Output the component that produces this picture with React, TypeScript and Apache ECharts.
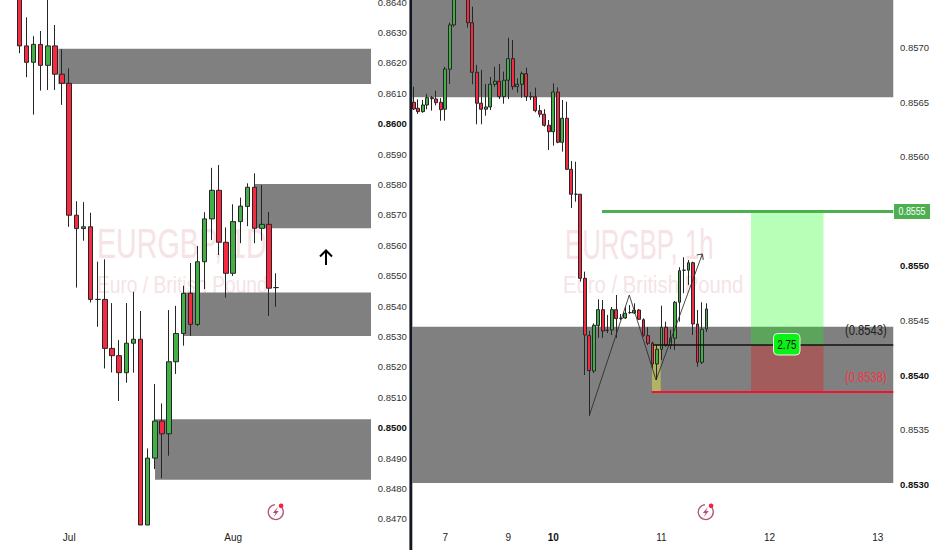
import React, { useEffect, useRef } from "react";
import * as echarts from "echarts";

// ---------- Left panel (1D) ----------
const leftOpen = [0.86473,0.86256,0.86202,0.86261,0.86192,0.86256,0.86163,0.86133,0.85699,0.85655,0.85661,0.85422,0.85422,0.85261,0.85237,0.85181,0.85278,0.85291,0.8468,0.849,0.85022,0.8498,0.85217,0.8531,0.85442,0.8534,0.85546,0.85687,0.85781,0.8561,0.85508,0.85678,0.85728,0.85791,0.85656,0.85669,0.85461];
const leftClose = [0.86256,0.86202,0.86261,0.86192,0.86256,0.86163,0.86133,0.85699,0.85655,0.85661,0.85422,0.85422,0.85261,0.85237,0.85181,0.85278,0.85291,0.8468,0.849,0.85022,0.8498,0.85217,0.8531,0.85442,0.8534,0.85546,0.85687,0.85781,0.8561,0.85508,0.85678,0.85729,0.85791,0.85656,0.85669,0.85459,0.85461];
const leftLow = [0.86232,0.86153,0.8603,0.86109,0.86111,0.86111,0.86062,0.85661,0.85461,0.85615,0.85412,0.85332,0.85195,0.85182,0.85088,0.85148,0.85181,0.8468,0.8468,0.84864,0.84834,0.84908,0.85177,0.8527,0.85302,0.85335,0.85456,0.85617,0.85568,0.85428,0.85499,0.85607,0.85663,0.85607,0.85615,0.85368,0.85398];
const leftHigh = [0.86538,0.8635,0.86288,0.86305,0.8644,0.86325,0.86245,0.86182,0.85745,0.85742,0.85707,0.85546,0.85554,0.8541,0.85288,0.8541,0.85447,0.85384,0.84932,0.85144,0.8508,0.85387,0.85401,0.85467,0.85542,0.85598,0.85709,0.85855,0.85864,0.85659,0.85735,0.85757,0.85804,0.85837,0.85798,0.8571,0.85508];
const leftLeadingBlanks = 2;
const leftBarCount = 52;
const leftYTicks = [0.864,0.863,0.862,0.861,0.86,0.859,0.858,0.857,0.856,0.855,0.854,0.853,0.852,0.851,0.85,0.849,0.848,0.847];
const leftBoldTicks = [0.86,0.85];
const leftTickIndex = [9,32];
const leftTickLabels = ["Jul","Aug"];
// zones: bar position from, bar position to, upper price, lower price
const leftZones = [
  [7.97,51.82,0.86247,0.86131],
  [35.55,51.82,0.85802,0.85656],
  [25.55,51.82,0.85445,0.85302],
  [21.53,51.82,0.85028,0.84829],
];

// ---------- Right panel (1h) ----------
const rightOpen = [0.856502,0.856447,0.856416,0.856477,0.856544,0.856532,0.856502,0.856438,0.856805,0.857211,0.857578,0.85799,0.857624,0.857232,0.856777,0.856493,0.856438,0.856459,0.856667,0.856695,0.856553,0.856704,0.856902,0.856645,0.856667,0.856764,0.856553,0.856553,0.856425,0.856392,0.856291,0.856232,0.856596,0.856135,0.856355,0.855887,0.855658,0.855658,0.854887,0.854361,0.854037,0.854452,0.854599,0.85441,0.854413,0.854599,0.85452,0.854523,0.854572,0.854569,0.854596,0.854507,0.854361,0.854291,0.854101,0.854236,0.854438,0.854273,0.854337,0.854667,0.854961,0.854961,0.85503,0.854468,0.854117,0.854422];
const rightClose = [0.85644,0.856416,0.856477,0.856544,0.856535,0.856498,0.856434,0.856807,0.857211,0.857578,0.85799,0.857624,0.857232,0.856777,0.856493,0.856438,0.856459,0.856667,0.856695,0.856553,0.856704,0.856902,0.856645,0.856667,0.856764,0.856553,0.856553,0.856425,0.856392,0.856291,0.856232,0.856596,0.856135,0.856355,0.855887,0.855658,0.855658,0.854887,0.854367,0.85404,0.854456,0.854599,0.854404,0.85441,0.854599,0.854517,0.85452,0.854566,0.854572,0.854594,0.854511,0.854364,0.854291,0.854101,0.854236,0.854438,0.854273,0.854337,0.854667,0.854957,0.854961,0.85503,0.854468,0.854117,0.85442,0.854606];
const rightLow = [0.856431,0.856395,0.856406,0.856438,0.856425,0.856474,0.856333,0.856333,0.85667,0.857195,0.857486,0.857532,0.857186,0.856667,0.8563,0.8563,0.856379,0.856431,0.856645,0.856532,0.856489,0.856532,0.856615,0.85659,0.856544,0.856514,0.856523,0.85641,0.856364,0.856278,0.856064,0.856104,0.856126,0.856049,0.855881,0.855532,0.85559,0.854856,0.854,0.853627,0.854018,0.85434,0.85434,0.854385,0.854367,0.85434,0.854505,0.854514,0.854562,0.85456,0.854505,0.854351,0.854275,0.854062,0.853954,0.854138,0.85426,0.854236,0.85423,0.854489,0.85475,0.854826,0.854367,0.854076,0.854101,0.854395];
const rightHigh = [0.856645,0.856529,0.856523,0.856578,0.85656,0.856608,0.856539,0.856828,0.857232,0.85767,0.85808,0.85808,0.857716,0.857379,0.856844,0.856798,0.85667,0.856734,0.856828,0.856853,0.856783,0.857094,0.857073,0.856722,0.856783,0.856819,0.856596,0.856636,0.856477,0.856438,0.856339,0.856676,0.856639,0.856523,0.856507,0.855963,0.855957,0.85566,0.854948,0.854404,0.854474,0.854695,0.854688,0.854551,0.854624,0.854734,0.85456,0.854627,0.854642,0.854658,0.854606,0.85452,0.854438,0.854306,0.854275,0.854636,0.854489,0.854413,0.854679,0.854988,0.85508,0.855055,0.85504,0.854596,0.854667,0.854658];
const rightBarCount = 107;
const rightYTicks = [0.857,0.8565,0.856,0.855,0.8545,0.854,0.8535,0.853];
const rightBoldTicks = [0.855,0.854,0.853];
const rightTickIndex = [7,21,31,55,79,103];
const rightTickLabels = ["7","9","10","11","12","13"];
const rightMaxPrice = 0.85744;
const rightZones = [
  [0.2,106.95,rightMaxPrice,0.856548],
  [0.2,106.95,0.854443,0.853009],
];
const entryZone = [[53.4,55.33,0.854275,0.853844]];
const profitZone = [[75.37,91.47,0.8555,0.854275]];
const lossZone = [[75.37,91.47,0.854275,0.853844]];
const targetLine = [[42.3,0.8555],[106.95,0.8555]];
const entryLine = [[53.6,0.854275],[106.95,0.854275]];
const stopLine = [[53.3,0.853844],[106.95,0.853844]];
const pathLine = [[39.48,0.853627],[48.36,0.854734],[54.29,0.853954],[64.57,0.85511]];
const pathHead = [[63.32,0.855101],[64.57,0.85511],[64.78,0.855055]];

const BASE_FONT = '"Liberation Sans", sans-serif';
const AXIS_FONT_SIZE = 9.5;

function candleData(o: number[], c: number[], l: number[], h: number[], blanks: number) {
  const rows: any[] = [];
  for (let i = 0; i < blanks; i++) rows.push("-");
  o.forEach((v, i) => rows.push([v, c[i], l[i], h[i]]));
  return rows;
}

function rectSeries(name: string, rows: number[][], color: string, z: number, xAxisIndex: number, yAxisIndex: number) {
  return {
    type: "custom", name, data: rows, z, xAxisIndex, yAxisIndex, silent: true,
    encode: { x: [0, 1], y: [2, 3] },
    renderItem: (_: any, api: any) => {
      const a = api.coord([api.value(0), api.value(2)]);
      const b = api.coord([api.value(1), api.value(3)]);
      return { type: "rect", shape: { x: a[0], y: a[1], width: b[0] - a[0], height: b[1] - a[1] }, style: { fill: color } };
    },
  };
}

function lineSeries(name: string, rows: number[][], color: string, width: number, z: number, xAxisIndex: number, yAxisIndex: number, opacity = 1) {
  return {
    type: "line", name, data: rows, z, xAxisIndex, yAxisIndex, silent: true, symbol: "none",
    lineStyle: { color, width, opacity }, clip: false,
  };
}

function categoryAxis(count: number, gridIndex: number, idx: number[], labels: string[]) {
  const cats = Array.from({ length: count }, (_, i) => String(i));
  return {
    type: "category", gridIndex, data: cats, boundaryGap: true,
    axisLine: { show: false }, axisTick: { show: false }, splitLine: { show: false },
    axisLabel: {
      interval: 0, margin: 7, hideOverlap: false,
      formatter: (v: string) => {
        const p = idx.indexOf(Number(v));
        if (p < 0) return "";
        return labels[p] === "10" ? `{b|${labels[p]}}` : `{n|${labels[p]}}`;
      },
      rich: {
        n: { color: "#222", fontSize: AXIS_FONT_SIZE + 0.5, fontFamily: BASE_FONT },
        b: { color: "#111", fontSize: AXIS_FONT_SIZE + 0.5, fontWeight: "bold", fontFamily: BASE_FONT },
      },
    },
  };
}

function hiddenAxis(count: number, gridIndex: number) {
  return { type: "value", gridIndex, min: 0, max: count, show: false, splitLine: { show: false } };
}

function priceAxis(gridIndex: number, min: number, max: number, ticks: number[], bold: number[], margin: number) {
  return {
    type: "value", gridIndex, position: "right", min, max, scale: true,
    axisLine: { show: false }, axisTick: { show: false }, splitLine: { show: false },
    axisLabel: {
      customValues: ticks, margin, showMinLabel: true, showMaxLabel: true,
      formatter: (v: number) => {
        const s = v.toFixed(4);
        return bold.some((b) => Math.abs(b - v) < 1e-6) ? `{b|${s}}` : `{n|${s}}`;
      },
      rich: {
        n: { color: "#333", fontSize: AXIS_FONT_SIZE, fontFamily: BASE_FONT },
        b: { color: "#111", fontSize: AXIS_FONT_SIZE, fontWeight: "bold", fontFamily: BASE_FONT },
      },
    },
  };
}

function candleSeries(name: string, data: any[], barWidth: number, xAxisIndex: number, yAxisIndex: number) {
  return {
    type: "candlestick", name, data, xAxisIndex, yAxisIndex, barWidth, z: 3, silent: true,
    itemStyle: {
      color: "#43b047", color0: "#f82a42", borderColor: "#262626", borderColor0: "#262626",
      borderColorDoji: "#262626", borderWidth: 1,
    },
  };
}

function watermark(x: number, y: number, text: string, size: number, scaleX: number) {
  return {
    type: "text", x, y, scaleX, z: -10, silent: true,
    style: { text, fill: "#f6e3e5", fontSize: size, fontFamily: BASE_FONT, textAlign: "left", textVerticalAlign: "middle" },
  };
}

function boltIcon(cx: number, cy: number) {
  return [
    { type: "arc", z: 100, silent: true, shape: { cx, cy, r: 7.5, startAngle: -0.9, endAngle: 4.6 }, style: { stroke: "#b4517a", fill: "none", lineWidth: 1.3 } },
    { type: "polygon", z: 100, silent: true, shape: { points: [[cx + 2, cy - 5],[cx - 3, cy + 1],[cx - 0.3, cy + 1],[cx - 2, cy + 5],[cx + 3, cy - 1],[cx + 0.3, cy - 1]] }, style: { fill: "#b4517a" } },
    { type: "circle", z: 100, silent: true, shape: { cx: cx + 5.3, cy: cy - 6.3, r: 2.3 }, style: { fill: "#f2243c" } },
  ];
}

function overlayText(x: number, y: number, text: string, fill: string, size: number, scaleX: number, align = "left") {
  return {
    type: "text", x, y, scaleX, z: 101, silent: true,
    style: { text, fill, fontSize: size, fontFamily: BASE_FONT, textAlign: align, textVerticalAlign: "middle" },
  };
}

export default function App() {
  const ref = useRef<HTMLDivElement | null>(null);
  useEffect(() => {
    document.body.style.margin = "0";
    const chart = echarts.init(ref.current!, null, { renderer: "svg" });
    const option: any = {
      animation: false,
      backgroundColor: "#ffffff",
      grid: [
        { left: 1.5, top: 0, width: 370.8, height: 525, outerBoundsMode: "none" },
        { left: 411.45, top: 0, width: 482.04, height: 525, outerBoundsMode: "none" },
      ],
      xAxis: [
        categoryAxis(leftBarCount, 0, leftTickIndex, leftTickLabels),
        hiddenAxis(leftBarCount, 0),
        categoryAxis(rightBarCount, 1, rightTickIndex, rightTickLabels),
        hiddenAxis(rightBarCount, 1),
      ],
      yAxis: [
        priceAxis(0, 0.8468, 0.86407, leftYTicks, leftBoldTicks, 5.5),
        priceAxis(1, 0.852624, rightMaxPrice, rightYTicks, rightBoldTicks, 6.5),
      ],
      series: [
        rectSeries("left zones", leftZones, "#808080", 1, 1, 0),
        candleSeries("EURGBP 1D", candleData(leftOpen, leftClose, leftLow, leftHigh, leftLeadingBlanks), 5, 0, 0),
        rectSeries("right zones", rightZones, "#808080", 1, 3, 1),
        rectSeries("entry zone", entryZone, "#b2b464", 2, 3, 1),
        candleSeries("EURGBP 1h", candleData(rightOpen, rightClose, rightLow, rightHigh, 0), 3.4, 2, 1),
        rectSeries("profit", profitZone, "rgba(0,255,0,0.28)", 4, 3, 1),
        rectSeries("loss", lossZone, "rgba(255,0,0,0.28)", 4, 3, 1),
        lineSeries("target", targetLine, "#4caf50", 3, 5, 3, 1),
        lineSeries("entry", entryLine, "#111111", 1.6, 5, 3, 1),
        lineSeries("stop", stopLine, "#f2122d", 2, 5, 3, 1),
        lineSeries("path", pathLine, "#2a2a2a", 1, 6, 3, 1, 0.85),
        lineSeries("path head", pathHead, "#2a2a2a", 1, 6, 3, 1, 0.85),
      ],
      graphic: {
        elements: [
          watermark(97, 243.5, "EURGBP, 1D", 43, 0.666),
          watermark(97, 285, "Euro / British Pound", 24, 0.8),
          watermark(565, 244, "EURGBP, 1h", 43, 0.6),
          watermark(563, 285, "Euro / British Pound", 24, 0.845),
          { type: "rect", z: 100, silent: true, shape: { x: 409.4, y: 0, width: 2.9, height: 550 }, style: { fill: "#131722" } },
          { type: "line", z: 100, silent: true, shape: { x1: 326, y1: 250, x2: 326, y2: 265 }, style: { stroke: "#000", lineWidth: 2 } },
          { type: "polyline", z: 100, silent: true, shape: { points: [[320, 256.5],[326, 250.5],[332, 256.5]] }, style: { stroke: "#000", lineWidth: 2, fill: "none" } },
          ...boltIcon(275.8, 512),
          ...boltIcon(705.8, 512),
          { type: "rect", z: 100, silent: true, shape: { x: 894, y: 204, width: 36, height: 15 }, style: { fill: "#4caf50" } },
          overlayText(912, 211.5, "0.8555", "#ffffff", 11, 0.8, "center"),
          overlayText(845, 331, "(0.8543)", "#222222", 14, 0.8),
          overlayText(845, 378, "(0.8538)", "#f23645", 14, 0.8),
          { type: "rect", z: 100, silent: true, shape: { x: 773.5, y: 333.5, width: 26.5, height: 21.5, r: 4 }, style: { fill: "#0bf015", stroke: "#e8f5e8", lineWidth: 1 } },
          overlayText(786.8, 344.5, "2.75", "#111111", 12, 0.82, "center"),
        ],
      },
    };
    chart.setOption(option);
    return () => chart.dispose();
  }, []);
  return <div ref={ref} style={{ position: "fixed", left: 0, top: 0, width: 932, height: 550, background: "#fff" }} />;
}
